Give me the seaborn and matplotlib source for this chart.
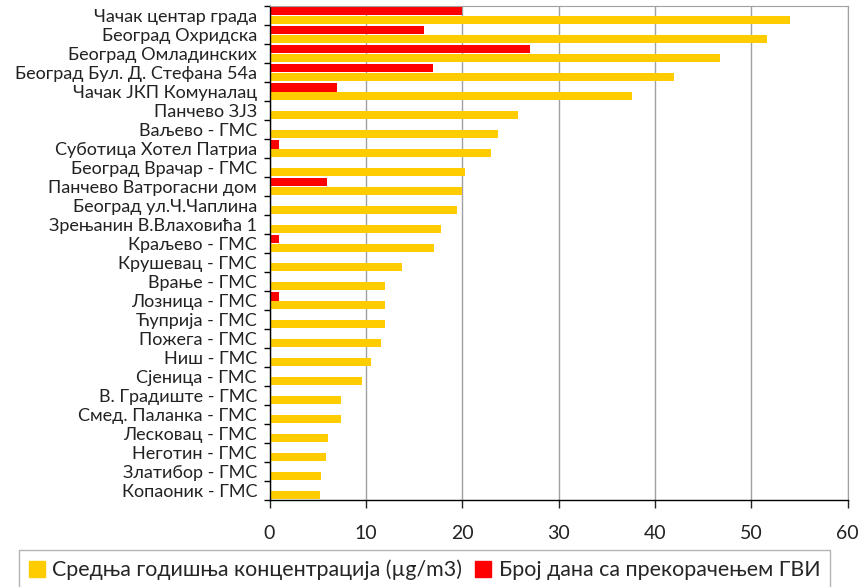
import pandas as pd
import matplotlib.pyplot as plt
import matplotlib.patches as mpatches
import seaborn as sns

sns.set_style("white")
plt.rcParams['font.family'] = ['Lato', 'Open Sans', 'DejaVu Sans']

# станице
stations = [
    "Чачак центар града", "Београд Охридска", "Београд Омладинских",
    "Београд Бул. Д. Стефана 54а", "Чачак ЈКП Комуналац", "Панчево ЗЈЗ",
    "Ваљево - ГМС", "Суботица Хотел Патриа", "Београд Врачар - ГМС",
    "Панчево Ватрогасни дом", "Београд ул.Ч.Чаплина", "Зрењанин В.Влаховића 1",
    "Краљево - ГМС", "Крушевац - ГМС", "Врање - ГМС", "Лозница - ГМС",
    "Ћуприја - ГМС", "Пожега - ГМС", "Ниш - ГМС", "Сјеница - ГМС",
    "В. Градиште - ГМС", "Смед. Паланка - ГМС", "Лесковац - ГМС",
    "Неготин - ГМС", "Златибор - ГМС", "Копаоник - ГМС",
]
# средња годишња концентрација (µg/m3)
mean_conc = [54.0, 51.6, 46.8, 42.0, 37.6, 25.8, 23.7, 23.0, 20.3, 20.0,
             19.5, 17.8, 17.1, 13.7, 12.0, 12.0, 12.0, 11.6, 10.5, 9.6,
             7.4, 7.4, 6.1, 5.9, 5.3, 5.2]
# број дана са прекорачењем ГВИ
days_over = [20, 16, 27, 17, 7, 0, 0, 1, 0, 6,
             0, 0, 1, 0, 0, 1, 0, 0, 0, 0,
             0, 0, 0, 0, 0, 0]

lbl_conc = "Средња годишња концентрација (µg/m3)"
lbl_days = "Број дана са прекорачењем ГВИ"
col_conc = "#FFCC00"
col_days = "#FF0000"

df = pd.concat([
    pd.DataFrame({"станица": stations, "серија": lbl_days, "вредност": days_over}),
    pd.DataFrame({"станица": stations, "серија": lbl_conc, "вредност": mean_conc}),
])

fig = plt.figure(figsize=(8.61, 5.87), dpi=100)
ax = fig.add_axes([269.5 / 861, 1 - 500 / 587, (847.7 - 269.5) / 861, (500 - 6) / 587])

sns.barplot(data=df, y="станица", x="вредност", hue="серија",
            hue_order=[lbl_days, lbl_conc],
            palette={lbl_days: col_days, lbl_conc: col_conc},
            orient="h", width=0.93, saturation=1, linewidth=0,
            ax=ax, legend=False)

n = len(stations)
ax.set_xlim(0, 60)
ax.set_ylim(n - 0.5, -0.5)
ax.set_xticks(range(0, 61, 10))
ax.set_xlabel("")
ax.set_ylabel("")

# мрежа
ax.xaxis.grid(True, color="#a0a0a0", linewidth=1)
ax.set_axisbelow(True)

for s in ["top", "right"]:
    ax.spines[s].set_color("#a0a0a0")
for s in ["left", "bottom"]:
    ax.spines[s].set_color("black")
    ax.spines[s].set_linewidth(1)

# подеоци између категорија
ax.set_yticks([i - 0.5 for i in range(n + 1)], minor=True)
ax.tick_params(axis="y", which="major", length=0, labelsize=13, pad=9, colors="#222222")
ax.tick_params(axis="y", which="minor", length=4.5, width=1, color="black", left=True)
ax.tick_params(axis="x", which="major", length=6, width=1, bottom=True,
               direction="out", labelsize=14, pad=12, colors="#222222")

handles = [mpatches.Patch(color=col_conc, label=lbl_conc),
           mpatches.Patch(color=col_days, label=lbl_days)]
leg = fig.legend(handles=handles, loc="upper left", bbox_to_anchor=(19 / 861, 1 - 550 / 587),
                 ncol=2, frameon=True, fancybox=False, fontsize=15.4,
                 handlelength=0.75, handleheight=0.75, handletextpad=0.35,
                 columnspacing=0.6, borderaxespad=0, borderpad=0.45)
leg.get_frame().set_edgecolor("#a0a0a0")
leg.get_frame().set_linewidth(1)

fig.savefig("out.png", dpi=100)
